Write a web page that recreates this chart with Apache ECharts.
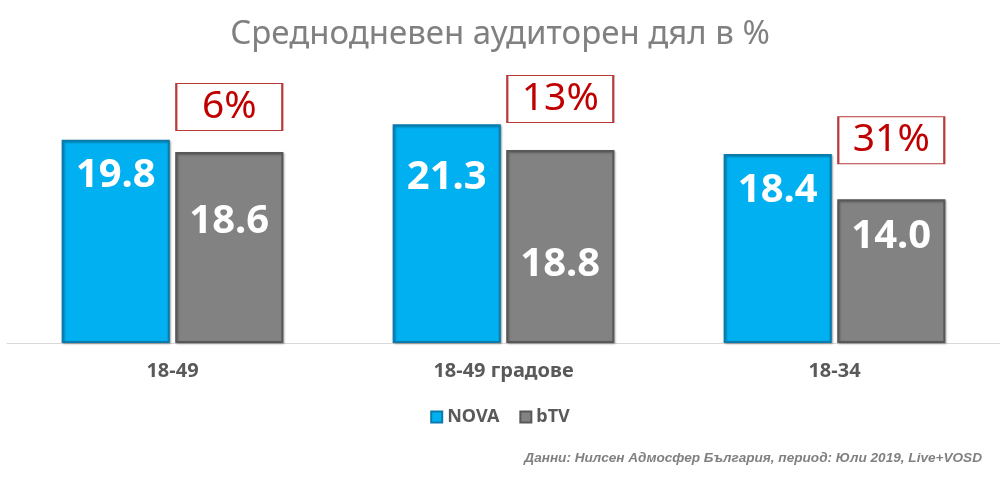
<!DOCTYPE html>
<html>
<head>
<meta charset="utf-8">
<script src="https://cdn.jsdelivr.net/npm/echarts@6/dist/echarts.min.js"></script>
<style>
  html, body { margin: 0; padding: 0; background: #fff; }
  #chart { width: 1000px; height: 479px; }
</style>
</head>
<body>
<div id="chart"></div>
<script>
const CATEGORIES = ['18-49', '18-49 градове', '18-34']
const NOVA = [19.8, 21.3, 18.4]
const BTV = [18.6, 18.8, 14.0]
const DIFF = ['6%', '13%', '31%']

// label placement inside bars, px below the bar top (moved by hand in the original)
const NOVA_LABEL_DIST = [16, 33, 17]
const BTV_LABEL_DIST = [50, 95, 17]
// the red boxes sit a bit above each bTV bar
const BOX_LIFT = [-45, -51, -59]

const chart = echarts.init(document.getElementById('chart'))

function barData(values, dists) {
  return values.map((v, i) => ({
    value: v,
    label: { distance: dists[i] }
  }))
}

const valueLabel = {
  show: true,
  position: 'insideTop',
  color: '#fff',
  fontSize: 40,
  lineHeight: 40,
  fontWeight: 'bold',
  fontFamily: 'Noto Sans',
  formatter: p => p.value.toFixed(1)
}

const option = {
  animation: false,
  title: {
    text: 'Среднодневен аудиторен дял в %',
    left: 'center',
    top: 13,
    textStyle: {
      color: '#808080',
      fontSize: 33,
      fontWeight: 'normal',
      fontFamily: 'Noto Sans'
    }
  },
  legend: {
    data: ['NOVA', 'bTV'],
    top: 403,
    left: 'center',
    icon: 'rect',
    itemWidth: 11,
    itemHeight: 11,
    itemGap: 20,
    textStyle: {
      color: '#595959',
      fontSize: 18,
      fontWeight: 'bold',
      fontFamily: 'Noto Sans'
    }
  },
  graphic: [{
    type: 'text',
    right: 18,
    top: 451,
    style: {
      text: 'Данни: Нилсен Адмосфер България, период: Юли 2019, Live+VOSD',
      fill: '#808080',
      font: 'italic bold 13.6px "Liberation Sans"'
    }
  }],
  grid: { left: 7, right: 0, top: 35, bottom: 136 },
  xAxis: {
    type: 'category',
    data: CATEGORIES,
    axisLine: { lineStyle: { color: '#d9d9d9', width: 1 } },
    axisTick: { show: false },
    axisLabel: {
      color: '#595959',
      fontSize: 20,
      fontWeight: 'bold',
      fontFamily: 'Noto Sans',
      margin: 18
    }
  },
  yAxis: {
    type: 'value',
    min: 0,
    max: 30,
    show: false,
    splitLine: { show: false }
  },
  series: [
    {
      name: 'NOVA',
      type: 'bar',
      barGap: '5%',
      barCategoryGap: '33%',
      data: barData(NOVA, NOVA_LABEL_DIST),
      itemStyle: {
        color: '#00b0f0',
        borderColor: '#0a7bab',
        borderWidth: 2,
        shadowColor: 'rgba(0,0,0,0.3)',
        shadowBlur: 2,
        shadowOffsetX: 1,
        shadowOffsetY: 1
      },
      label: valueLabel
    },
    {
      name: 'bTV',
      type: 'bar',
      data: barData(BTV, BTV_LABEL_DIST),
      itemStyle: {
        color: '#828282',
        borderColor: '#585858',
        borderWidth: 2,
        shadowColor: 'rgba(0,0,0,0.3)',
        shadowBlur: 2,
        shadowOffsetX: 1,
        shadowOffsetY: 1
      },
      label: valueLabel,
      markPoint: {
        symbol: 'rect',
        symbolSize: [106, 47],
        itemStyle: {
          color: '#fff',
          borderColor: '#b83a3a',
          borderWidth: 1.5
        },
        label: {
          show: true,
          position: 'inside',
          color: '#c00000',
          fontSize: 39,
          fontFamily: 'Noto Sans',
          formatter: p => p.name
        },
        data: BTV.map((v, i) => ({
          name: DIFF[i],
          coord: [i, v],
          symbolOffset: [0, BOX_LIFT[i]]
        }))
      }
    }
  ]
}

chart.setOption(option)
</script>
</body>
</html>
